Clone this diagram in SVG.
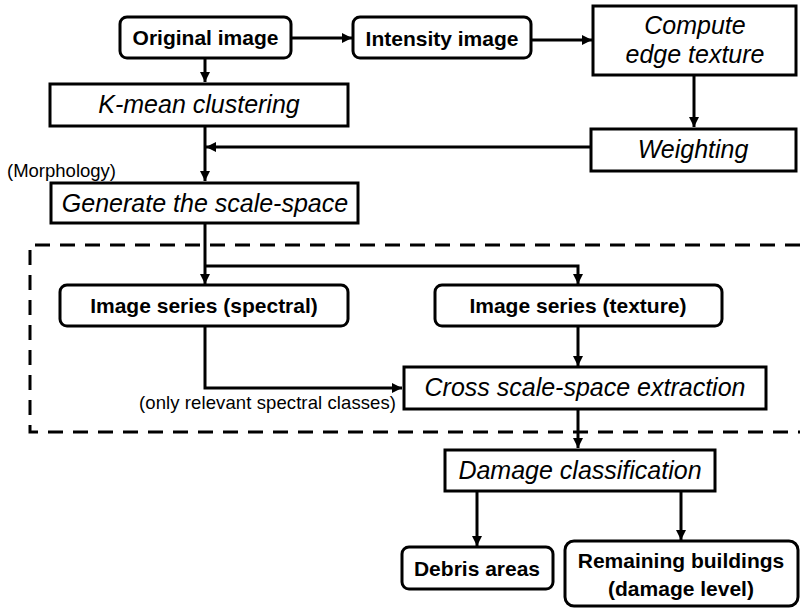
<svg xmlns="http://www.w3.org/2000/svg" width="800" height="608" viewBox="0 0 800 608">
<defs>
<marker id="ah" markerUnits="userSpaceOnUse" markerWidth="11" markerHeight="11" refX="10" refY="5" orient="auto">
<path d="M0,0 L10,5 L0,10 z" fill="#000"/>
</marker>
<style>
.box{fill:#fff;stroke:#000;stroke-width:3}
.b{font-family:"Liberation Sans",Arial,sans-serif;font-weight:bold;font-size:21px;text-anchor:middle;fill:#000}
.i{font-family:"Liberation Sans",Arial,sans-serif;font-style:italic;font-size:25px;text-anchor:middle;fill:#000}
.s{font-family:"Liberation Sans",Arial,sans-serif;font-size:18.5px;fill:#000}
.c{fill:none;stroke:#000;stroke-width:3;marker-end:url(#ah)}
.dash{fill:none;stroke:#000;stroke-width:3;stroke-dasharray:15 10}
</style>
</defs>
<rect width="800" height="608" fill="#fff"/>
<path class="dash" d="M800 245 H30 V432 H800"/>
<g id="connectors">
<path class="c" d="M291 38 H352"/>
<path class="c" d="M531 40 H592"/>
<path class="c" d="M694 75 V127"/>
<path class="c" d="M205 58 V82"/>
<path class="c" d="M591 147 H206"/>
<path class="c" d="M205 126 V181"/>
<path class="c" d="M205 223 V284"/>
<path class="c" d="M205 266 H578 V284"/>
<path class="c" d="M578 326 V366"/>
<path class="c" d="M205 326 V388 H402"/>
<path class="c" d="M578 409 V448"/>
<path class="c" d="M477 491 V546"/>
<path class="c" d="M681 491 V540"/>
</g>
<g id="original"><rect class="box" x="120" y="17" width="171" height="41" rx="7"/><text class="b" x="205.5" y="45">Original image</text></g>
<g id="intensity"><rect class="box" x="353" y="17" width="178" height="41" rx="7"/><text class="b" x="442" y="46">Intensity image</text></g>
<g id="compute"><rect class="box" x="593" y="6" width="203" height="69"/><text class="i" x="695" y="34">Compute</text><text class="i" x="695" y="63">edge texture</text></g>
<g id="kmean"><rect class="box" x="50" y="84" width="298" height="42"/><text class="i" x="199" y="113">K-mean clustering</text></g>
<g id="weighting"><rect class="box" x="591" y="129" width="205" height="42"/><text class="i" x="693" y="158">Weighting</text></g>
<text class="s" x="7" y="177">(Morphology)</text>
<g id="generate"><rect class="box" x="51" y="183" width="307" height="40"/><text class="i" x="205" y="212">Generate the scale-space</text></g>
<g id="spectral"><rect class="box" x="60" y="285" width="288" height="41" rx="7"/><text class="b" x="204" y="313">Image series (spectral)</text></g>
<g id="texture"><rect class="box" x="435" y="285" width="287" height="41" rx="7"/><text class="b" x="578" y="313">Image series (texture)</text></g>
<text class="s" x="139" y="409" textLength="257" lengthAdjust="spacing">(only relevant spectral classes)</text>
<g id="cross"><rect class="box" x="404" y="367" width="362" height="42"/><text class="i" x="585" y="396">Cross scale-space extraction</text></g>
<g id="damage"><rect class="box" x="445" y="450" width="270" height="41"/><text class="i" x="580" y="479">Damage classification</text></g>
<g id="debris"><rect class="box" x="402" y="547" width="151" height="42" rx="7"/><text class="b" x="477" y="576">Debris areas</text></g>
<g id="remaining"><rect class="box" x="565" y="541" width="233" height="65" rx="9"/><text class="b" x="681" y="568">Remaining buildings</text><text class="b" x="681" y="596">(damage level)</text></g>
</svg>
